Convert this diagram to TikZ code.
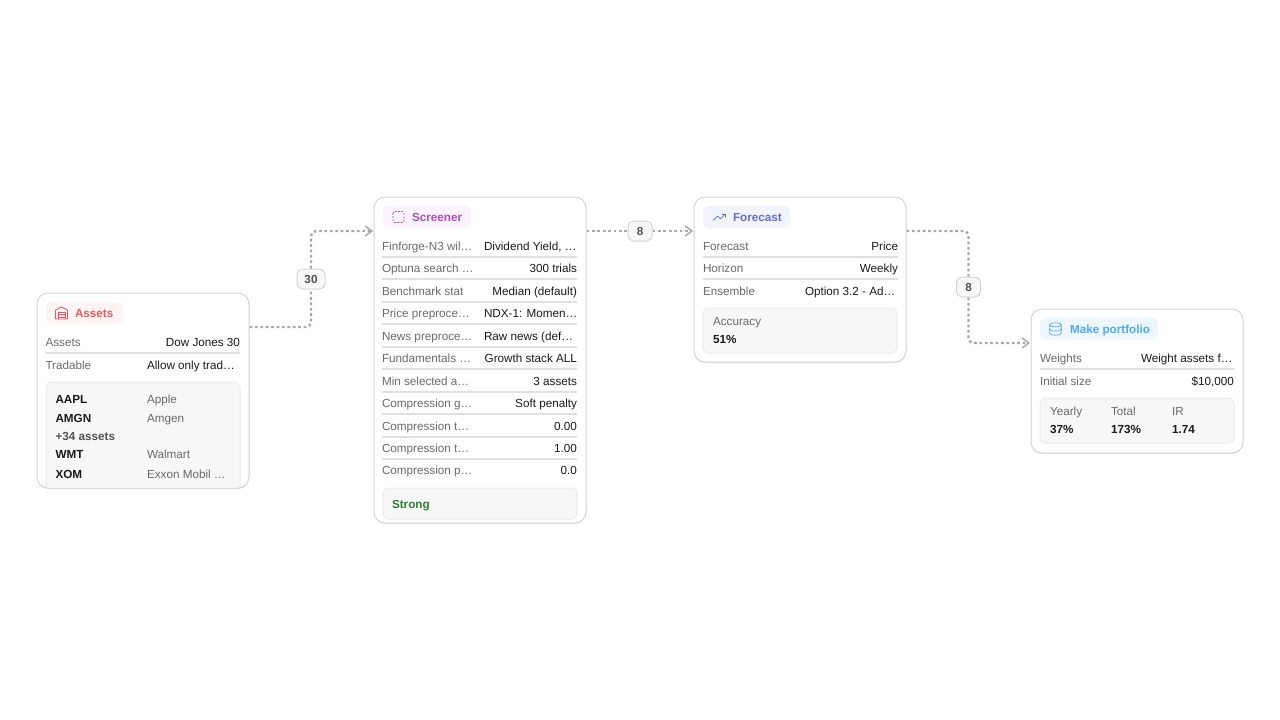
\documentclass[tikz,border=0pt]{standalone}
\usepackage{fontspec}
\setmainfont{Liberation Sans}
\usetikzlibrary{arrows.meta,shadows}
\definecolor{cborder}{HTML}{D4D4D6}
\definecolor{clabel}{HTML}{6A6A6A}
\definecolor{cvalue}{HTML}{1A1A1A}
\definecolor{cedge}{HTML}{A8A8B2}
\definecolor{csep}{HTML}{E0E0E2}
\definecolor{cpanel}{HTML}{F7F7F8}
\definecolor{cpanelb}{HTML}{ECECEE}
\definecolor{aT}{HTML}{E95A5E}\definecolor{aB}{HTML}{FFF3F3}
\definecolor{sT}{HTML}{AB4FBB}\definecolor{sB}{HTML}{FAF2FD}
\definecolor{fT}{HTML}{6170C2}\definecolor{fB}{HTML}{F3F4FB}
\definecolor{pT}{HTML}{4FA9EE}\definecolor{pB}{HTML}{EFF7FE}
\definecolor{gT}{HTML}{2E7D32}
\newcommand{\txtfont}{\fontsize{11.7}{14}\selectfont}
\tikzset{
  x=1pt,y=-1pt,
  txt/.style={inner sep=0pt,outer sep=0pt,font=\txtfont},
  lab/.style={txt,anchor=base west,text=clabel},
  val/.style={txt,anchor=base east,text=cvalue},
  valw/.style={txt,anchor=base west,text=cvalue},
  bold/.style={txt,anchor=base west,text=cvalue,font=\txtfont\bfseries},
  card/.style={draw=cborder,line width=1pt,fill=white,rounded corners=11pt,minimum width=212pt,inner sep=0pt,
    drop shadow={shadow xshift=0pt,shadow yshift=-1pt,opacity=.10,fill=black}},
  pill/.style={fill=#1,rounded corners=6pt,inner sep=0pt,minimum height=22pt},
  panel/.style={fill=cpanel,draw=cpanelb,line width=1pt,rounded corners=6pt,minimum width=194pt,inner sep=0pt},
  sepbar/.style={fill=csep,inner sep=0pt,minimum width=195pt,minimum height=1.6pt},
  edge/.style={draw=cedge,line width=2.4pt,dash pattern=on 2.8pt off 2.6pt,rounded corners=5pt},
  tip/.style={-{Straight Barb[length=6.5pt,width=10pt,line width=1.5pt,color=cedge]}},
  badge/.style={draw=cborder,fill=cpanel,line width=1pt,rounded corners=5.5pt,minimum height=20pt,inner sep=0pt,
    font=\txtfont\bfseries,text=black!68},
  icon/.style={line width=.7pt,line cap=round,line join=round},
}
\begin{document}
\begin{tikzpicture}
\useasboundingbox (0,0) rectangle (1280,720);

% cards
\node[card,minimum height=195pt] (assets) at (143,390.5) {};
\node[card,minimum height=326pt] (screener) at (480,360) {};
\node[card,minimum height=165pt] (forecast) at (800,279.5) {};
\node[card,minimum height=144pt] (portfolio) at (1137,381) {};

% ports
\coordinate (aout) at (249.5,327);
\coordinate (sin) at (373,231);
\coordinate (sout) at (586.5,231);
\coordinate (fin) at (693,231);
\coordinate (fout) at (906.5,231);
\coordinate (pin) at (1030,343);

% badges
\node[badge,minimum width=28pt] (b30) at (311,279) {30};
\node[badge,minimum width=24pt] (b8a) at (640,231) {8};
\node[badge,minimum width=24pt] (b8b) at (968.5,287) {8};

% connectors
\draw[edge] (aout) -| (b30.south);
\draw[edge,tip] (b30.north) |- (sin);
\draw[edge] (sout) -- (b8a.west);
\draw[edge,tip] (b8a.east) -- (fin);
\draw[edge] (fout) -| (b8b.north);
\draw[edge,tip] (b8b.south) |- (pin);

% pills
\node[pill=aB,minimum width=77pt] (pa) at (84.5,313) {};
\node[pill=sB,minimum width=88pt] (ps) at (427,217) {};
\node[pill=fB,minimum width=87pt] (pf) at (746.5,217) {};
\node[pill=pB,minimum width=118pt] (pp) at (1099,329) {};
\node[bold,text=aT] (ta) at (75,317) {Assets};
\node[bold,text=sT] (ts) at (412,221) {Screener};
\node[bold,text=fT] (tf) at (733,221) {Forecast};
\node[bold,text=pT] (tp) at (1070,333) {Make portfolio};

% icons
\begin{scope}[shift={(61.5,313)},icon,draw=aT]
  \draw (-6,6) -- (-6,-3) -- (0,-6) -- (6,-3) -- (6,6) -- cycle;
  \draw (-3.5,6) -- (-3.5,-1) -- (3.5,-1) -- (3.5,6);
  \draw (-3.5,1.5) -- (3.5,1.5) (-3.5,4) -- (3.5,4);
\end{scope}
\begin{scope}[shift={(398.5,217)},icon,draw=sT]
  \draw[dash pattern=on 1.6pt off 1.7pt,rounded corners=1.5pt] (-5.5,-5.5) rectangle (5.5,5.5);
\end{scope}
\begin{scope}[shift={(719.5,217)},icon,draw=fT]
  \draw (-6.5,3.5) -- (-2,-1) -- (0.8,1.8) -- (6,-3);
  \draw (2.6,-3) -- (6,-3) -- (6,0.2);
\end{scope}
\begin{scope}[shift={(1055.5,329)},icon,draw=pT]
  \draw (0,-4.2) ellipse [x radius=5.8,y radius=2];
  \draw (-5.8,-4.2) -- (-5.8,4.2) arc [start angle=180,end angle=360,x radius=5.8,y radius=-2] -- (5.8,-4.2);
  \draw (-5.8,0) arc [start angle=180,end angle=360,x radius=5.8,y radius=-2];
\end{scope}

% Assets rows
\node[lab] (a1l) at (45.5,346) {Assets};
\node[val] (a1v) at (240,346) {Dow Jones 30};
\node[sepbar] (a1s) at (142.5,353) {};
\node[lab] (a2l) at (45.5,369) {Tradable};
\node[valw] (a2v) at (147,369) {Allow only trad…};
\begin{scope}
  \clip[rounded corners=10.5pt] (37.5,293.5) rectangle (248.5,487.5);
  \node[panel,minimum height=126pt] (apanel) at (143,445) {};
\end{scope}
\node[bold] (a3l) at (55.5,403) {AAPL};
\node[lab] (a3v) at (147,403) {Apple};
\node[bold] (a4l) at (55.5,422) {AMGN};
\node[lab] (a4v) at (147,422) {Amgen};
\node[bold,text=black!68] (a5l) at (55.5,440) {+34 assets};
\node[bold] (a6l) at (55.5,458) {WMT};
\node[lab] (a6v) at (147,458) {Walmart};
\node[bold] (a7l) at (55.5,478) {XOM};
\node[lab] (a7v) at (147,478) {Exxon Mobil …};

% Screener rows
\node[lab] (s1l) at (382,250) {Finforge-N3 wil…};
\node[valw] (s1v) at (484,250) {Dividend Yield, …};
\node[sepbar] (s1s) at (479.5,257) {};
\node[lab] (s2l) at (382,272) {Optuna search …};
\node[val] (s2v) at (577,272) {300 trials};
\node[sepbar] (s2s) at (479.5,279) {};
\node[lab] (s3l) at (382,295) {Benchmark stat};
\node[val] (s3v) at (577,295) {Median (default)};
\node[sepbar] (s3s) at (479.5,302) {};
\node[lab] (s4l) at (382,317) {Price preproce…};
\node[valw] (s4v) at (484,317) {NDX-1: Momen…};
\node[sepbar] (s4s) at (479.5,324) {};
\node[lab] (s5l) at (382,340) {News preproce…};
\node[valw] (s5v) at (484,340) {Raw news (def…};
\node[sepbar] (s5s) at (479.5,347) {};
\node[lab] (s6l) at (382,362) {Fundamentals …};
\node[val] (s6v) at (577,362) {Growth stack ALL};
\node[sepbar] (s6s) at (479.5,369) {};
\node[lab] (s7l) at (382,385) {Min selected a…};
\node[val] (s7v) at (577,385) {3 assets};
\node[sepbar] (s7s) at (479.5,392) {};
\node[lab] (s8l) at (382,407) {Compression g…};
\node[val] (s8v) at (577,407) {Soft penalty};
\node[sepbar] (s8s) at (479.5,414) {};
\node[lab] (s9l) at (382,430) {Compression t…};
\node[val] (s9v) at (577,430) {0.00};
\node[sepbar] (s9s) at (479.5,437) {};
\node[lab] (s10l) at (382,452) {Compression t…};
\node[val] (s10v) at (577,452) {1.00};
\node[sepbar] (s10s) at (479.5,459) {};
\node[lab] (s11l) at (382,474) {Compression p…};
\node[val] (s11v) at (577,474) {0.0};
\node[panel,minimum height=31pt] (spanel) at (480,503.5) {};
\node[bold,text=gT] (sres) at (392,508) {Strong};

% Forecast rows
\node[lab] (f1l) at (703,250) {Forecast};
\node[val] (f1v) at (898,250) {Price};
\node[sepbar] (f1s) at (800.5,257) {};
\node[lab] (f2l) at (703,272) {Horizon};
\node[val] (f2v) at (898,272) {Weekly};
\node[sepbar] (f2s) at (800.5,279) {};
\node[lab] (f3l) at (703,295) {Ensemble};
\node[valw] (f3v) at (805,295) {Option 3.2 - Ad…};
\node[panel,minimum height=45pt] (fpanel) at (800,330.5) {};
\node[lab] (f4l) at (713,325) {Accuracy};
\node[bold] (f4v) at (713,343) {51\%};

% Portfolio rows
\node[lab] (p1l) at (1040,362) {Weights};
\node[valw] (p1v) at (1141,362) {Weight assets f…};
\node[sepbar] (p1s) at (1137,369) {};
\node[lab] (p2l) at (1040,385) {Initial size};
\node[val] (p2v) at (1234,385) {\$10,000};
\node[panel,minimum height=45pt] (ppanel) at (1137,420.5) {};
\node[lab] (p3l) at (1050,415) {Yearly};
\node[lab] (p4l) at (1111,415) {Total};
\node[lab] (p5l) at (1172,415) {IR};
\node[bold] (p3v) at (1050,433) {37\%};
\node[bold] (p4v) at (1111,433) {173\%};
\node[bold] (p5v) at (1172,433) {1.74};
\end{tikzpicture}
\end{document}
